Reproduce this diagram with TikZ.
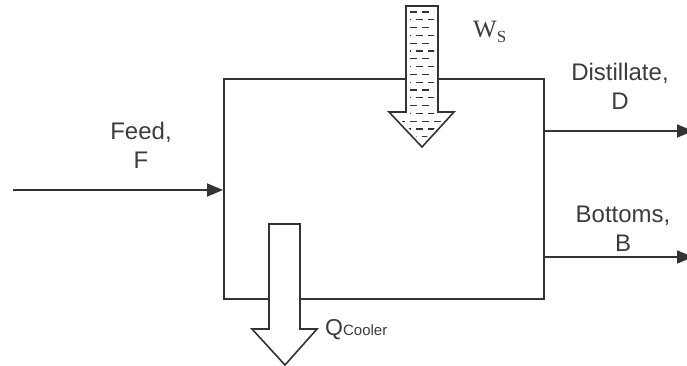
\documentclass[tikz,border=0pt]{standalone}
\usepackage{fontspec}
\setmainfont{Liberation Sans}
\newfontfamily\wsfont{Liberation Serif}
\definecolor{linedark}{HTML}{333333}
\definecolor{textdark}{HTML}{3C3C3C}
\usetikzlibrary{positioning,arrows.meta}
\tikzset{
  stream/.style={draw=linedark, line width=1.6pt, -{Triangle[length=16pt,width=13pt]}},
  blockarrow/.style={draw=linedark, line width=1.6pt, fill=white, line join=miter},
  streamlabel/.style={text=textdark, align=center, font=\fontsize{24}{29}\selectfont, inner sep=0pt}
}
\begin{document}
\begin{tikzpicture}[x=1pt,y=-1pt]
  \useasboundingbox (0,0) rectangle (687,366);
  % separator envelope
  \node[draw=linedark, line width=1.6pt, minimum width=320pt, minimum height=220pt,
        anchor=north west, inner sep=0pt] (sep) at (223,78) {};

  % material streams
  \coordinate (feedin) at (13,190);
  \coordinate (distout) at (693,131);
  \coordinate (botout) at (693,257);
  \draw[stream] (feedin) -- (feedin -| sep.west);
  \draw[stream] (distout -| sep.east) -- (distout);
  \draw[stream] (botout -| sep.east) -- (botout);
  \node[streamlabel] (feedlbl) at (141,145) {Feed,\\F};
  \node[streamlabel] (distlbl) at (620,86) {Distillate,\\D};
  \node[streamlabel] (botlbl) at (623,229) {Bottoms,\\B};

  % shaft work in
  \draw[blockarrow] (406,6) -- (438,6) -- (438,112) -- (454,112) -- (422,147)
    -- (389,112) -- (406,112) -- cycle;
  \begin{scope}
    \clip (410,8) -- (434,8) -- (434,116) -- (446,116) -- (422,142)
      -- (397,116) -- (410,116) -- cycle;
    \foreach \r in {0,...,16} {
      \pgfmathsetmacro{\ph}{mod(\r,2)==0 ? 0 : 6}
      \draw[linedark, line width=1.3pt, dash pattern=on 7pt off 5pt, dash phase=\ph pt]
        (386,12+7.8*\r) -- (460,12+7.8*\r);
    }
  \end{scope}
  \node[text=textdark, anchor=base west, inner sep=0pt] (wslbl) at (473,38)
    {\wsfont\fontsize{25}{25}\selectfont W\raisebox{-5pt}{\fontsize{17}{17}\selectfont S}};

  % heat removed
  \draw[blockarrow] (269,224) -- (300,224) -- (300,329) -- (317,329) -- (285,365)
    -- (252,329) -- (269,329) -- cycle;
  \node[text=textdark, anchor=base west, inner sep=0pt] (qlbl) at (325,335)
    {\fontsize{23}{23}\selectfont Q\fontsize{15}{15}\selectfont Cooler};
\end{tikzpicture}
\end{document}
